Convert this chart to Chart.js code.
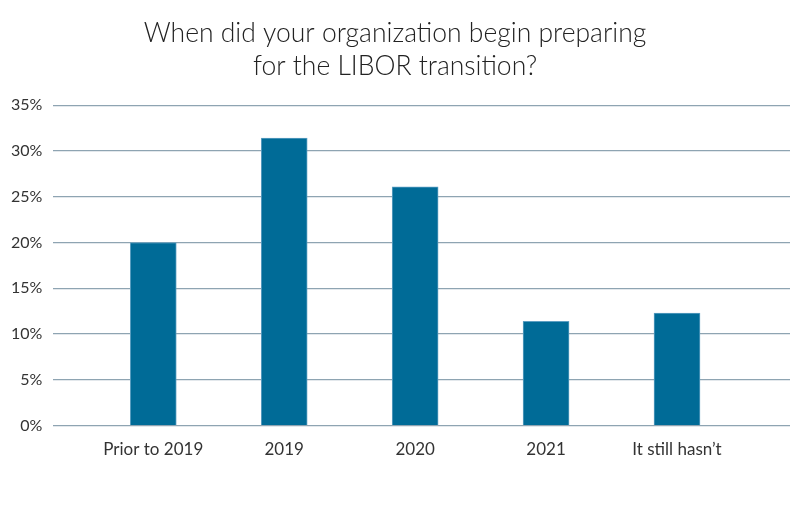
<!DOCTYPE html>
<html>
<head>
<meta charset="utf-8">
<script src="https://cdn.jsdelivr.net/npm/chart.js@4/dist/chart.umd.min.js"></script>
<style>
  html, body { margin: 0; padding: 0; background: #fff; }
  #wrap { width: 800px; height: 511px; }
</style>
</head>
<body>
<div id="wrap"><canvas id="c" width="800" height="511"></canvas></div>
<script>
// data
const categories = ['Prior to 2019', '2019', '2020', '2021', 'It still hasn\u2019t'];
const shares = [20.0, 31.4, 26.1, 11.4, 12.3];
const yTicks = [0, 5, 10, 15, 20, 25, 30, 35];

const FONT = 'Lato, "Open Sans", sans-serif';

const points = categories.map((c, i) => ({ x: i, y: shares[i] }));

new Chart(document.getElementById('c'), {
  type: 'bar',
  data: {
    datasets: [{
      data: points,
      backgroundColor: '#006b97',
      borderColor: '#5d9fc2',
      borderWidth: 1,
      barThickness: 46
    }]
  },
  options: {
    responsive: false,
    animation: false,
    layout: { padding: { left: 0, right: 10, top: 8, bottom: 45 } },
    plugins: {
      legend: { display: false },
      tooltip: { enabled: false },
      title: {
        display: true,
        text: ['When did your organization begin preparing', 'for the LIBOR transition?'],
        color: '#222',
        font: { family: FONT, size: 26.5, weight: 300, lineHeight: 1.25 },
        padding: { top: 9, bottom: 22 }
      }
    },
    scales: {
      x: {
        type: 'linear',
        bounds: 'data',
        offset: false,
        min: -0.763,
        max: 4.863,
        afterBuildTicks: axis => { axis.ticks = categories.map((c, i) => ({ value: i })); },
        grid: { display: false, offset: false },
        border: { display: false },
        ticks: {
          color: '#333',
          font: { family: FONT, size: 17 },
          padding: 6,
          maxRotation: 0,
          callback: v => categories[v]
        }
      },
      y: {
        min: 0,
        max: 35,
        afterBuildTicks: axis => { axis.ticks = yTicks.map(v => ({ value: v })); },
        border: { display: false },
        grid: { color: '#8ea4b2', lineWidth: 1.3, drawTicks: false },
        ticks: {
          color: '#333',
          font: { family: FONT, size: 16 },
          padding: 11,
          callback: v => v + '%'
        }
      }
    }
  }
});
</script>
</body>
</html>
